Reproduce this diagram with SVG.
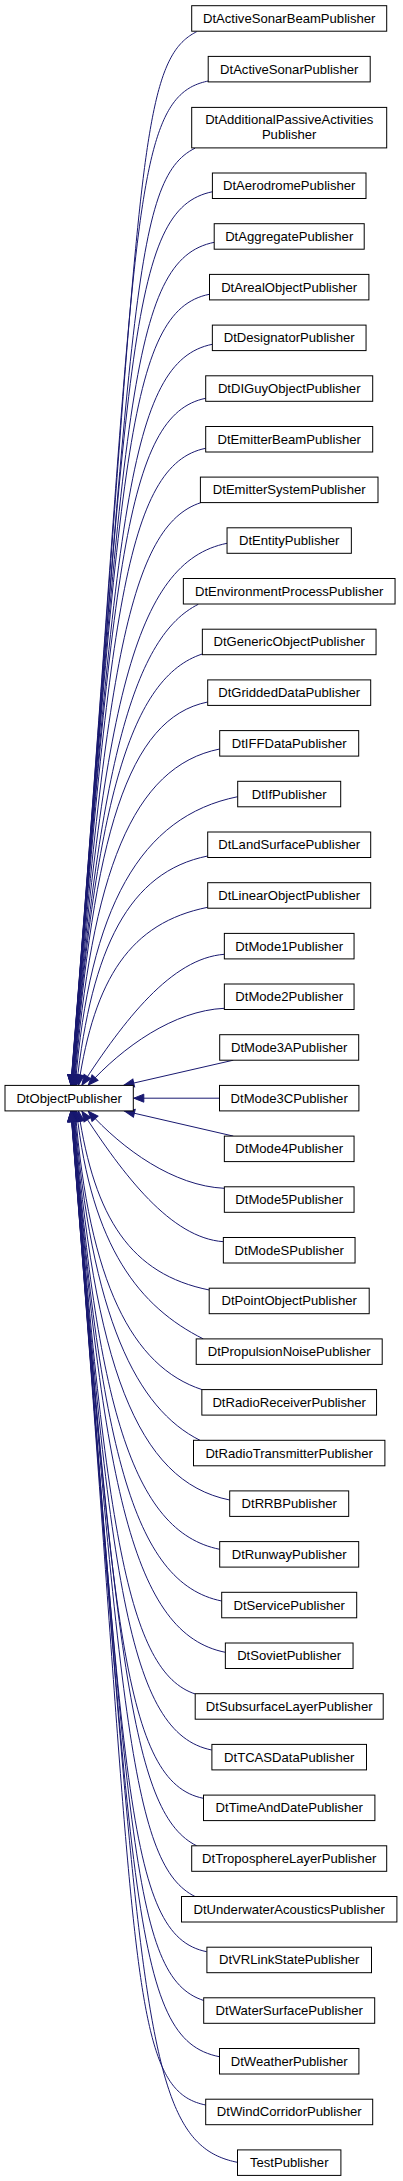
<svg xmlns="http://www.w3.org/2000/svg" width="403" height="2181" viewBox="0 0 403 2181">
<style>
.n rect{fill:#fff;stroke:#000;stroke-width:1}
.n text{font-family:"Liberation Sans",Arial,sans-serif;font-size:13.1px;text-anchor:middle;fill:#000}
.e path{fill:none;stroke:#191970;stroke-width:1;marker-end:url(#arr)}
</style>
<defs>
<marker id="arr" markerUnits="userSpaceOnUse" markerWidth="14" markerHeight="12" viewBox="-12 -6 14 12" refX="0.5" refY="0" orient="auto">
<path d="M0,0 L-10,-4 L-10,4 Z" fill="#191970" stroke="#191970" stroke-width="1"/>
</marker>
</defs>
<rect width="403" height="2181" fill="#fff"/>
<g id="connectors" class="e">
<path d="M196.7,31.7 C133.7,63.2 142.4,189.8 70.8,1085.4"/>
<path d="M208.3,81 C125.9,97.5 139.2,231.7 70.9,1085.4"/>
<path d="M195,148.2 C133,179.2 133.5,304.7 71,1085.4"/>
<path d="M212.7,191.7 C127.7,208.7 129.5,355.3 71.1,1085.4"/>
<path d="M214.3,242.3 C128.4,259.5 125.2,410.9 71.2,1085.4"/>
<path d="M209.3,294.3 C126.6,310.8 121,466 71.4,1085.4"/>
<path d="M212.3,344.3 C127.8,361.2 117,517 71.5,1085.4"/>
<path d="M205.7,398.3 C125.3,414.4 112.9,570.1 71.7,1085.4"/>
<path d="M205.7,448.3 C125.4,464.4 109.3,618.4 71.9,1085.4"/>
<path d="M200.7,502.7 C130,525.8 105.6,667.6 72.2,1085.4"/>
<path d="M227,543.3 C134.3,561.8 102.9,705.9 72.5,1085.4"/>
<path d="M198.3,604.3 C135.5,635.7 99.1,756.8 72.8,1085.4"/>
<path d="M202.3,654 C131.3,677.2 96.2,797.7 73.2,1085.4"/>
<path d="M207.7,702 C127.3,718.1 93.7,836.2 73.75,1085.4"/>
<path d="M219.7,749 C132.5,766.4 91.4,872.4 74.4,1085.4"/>
<path d="M237.7,796.7 C140.3,816.2 89.5,907.3 75.3,1085.4"/>
<path d="M207.7,856 C129,871.7 91.7,947.8 76.6,1085.4"/>
<path d="M207.7,907.3 C130.2,922.8 94.5,978.5 78.5,1085.4"/>
<path d="M224.3,954.3 C171.5,958.2 124.3,1019.9 81.7,1085.4"/>
<path d="M224.3,1008.3 C173.9,1010.6 122.7,1046.9 88,1085.4"/>
<path d="M233.3,1060.2 L123.5,1085.4"/>
<path d="M219.5,1098.2 L133.3,1098.2"/>
<path d="M233.3,1136.1 L124.1,1110.9"/>
<path d="M224.3,1188.3 C173.9,1186 122.8,1149.6 88,1110.9"/>
<path d="M223.3,1241.7 C170.9,1237.8 124.2,1176.3 81.7,1110.9"/>
<path d="M209.3,1290 C130.8,1274.3 94.6,1218.4 78.5,1110.9"/>
<path d="M203.3,1338.9 C139.9,1307.2 91.6,1247.7 76.6,1110.9"/>
<path d="M202,1389.6 C132.3,1366.8 89.1,1282.9 75.3,1110.9"/>
<path d="M200,1440.3 C137.2,1408.9 91.1,1319.4 74.4,1110.9"/>
<path d="M229.7,1500 C136.1,1481.3 94,1363.8 73.75,1110.9"/>
<path d="M219.7,1549.3 C131.8,1531.7 96.6,1403.3 73.2,1110.9"/>
<path d="M221.7,1601 C132.4,1583.1 99.6,1445.6 72.8,1110.9"/>
<path d="M225.3,1652.3 C133.6,1634 102.8,1489.9 72.5,1110.9"/>
<path d="M195.3,1694 C127.6,1671.8 105.6,1529 72.2,1110.9"/>
<path d="M211.7,1750 C127.8,1733.2 109.4,1579.4 71.9,1110.9"/>
<path d="M203.3,1798.3 C124.3,1782.5 112.9,1626.5 71.7,1110.9"/>
<path d="M196.7,1845.8 C134.1,1814.5 116.6,1674.6 71.5,1110.9"/>
<path d="M195,1896.5 C133.2,1865.6 120.6,1726 71.4,1110.9"/>
<path d="M206.7,1951.7 C125.4,1935.4 125,1783.5 71.2,1110.9"/>
<path d="M203.7,2000.5 C130.8,1976.6 129.2,1837.7 71.1,1110.9"/>
<path d="M219.3,2056.7 C130.3,2038.9 134,1898.8 71,1110.9"/>
<path d="M205.7,2105 C124.8,2088.8 138.5,1955.9 70.9,1110.9"/>
<path d="M237.3,2162.3 C137.4,2142.3 142.3,2004.6 70.8,1110.9"/>
</g>
<g id="DtObjectPublisher" class="n"><rect x="5" y="1085.4" width="128.3" height="25.5"/><text x="69.15" y="1102.6">DtObjectPublisher</text></g>
<g id="DtActiveSonarBeamPublisher" class="n"><rect x="191.7" y="5.7" width="195" height="25.5"/><text x="289.2" y="22.9">DtActiveSonarBeamPublisher</text></g>
<g id="DtActiveSonarPublisher" class="n"><rect x="208.2" y="56.4" width="162" height="25.5"/><text x="289.2" y="73.6">DtActiveSonarPublisher</text></g>
<g id="DtAdditionalPassiveActivitiesPublisher" class="n"><rect x="191.7" y="107.4" width="195" height="40.5"/><text x="289.2" y="124.1">DtAdditionalPassiveActivities</text><text x="289.2" y="138.7">Publisher</text></g>
<g id="DtAerodromePublisher" class="n"><rect x="212.4" y="173" width="153.6" height="25.5"/><text x="289.2" y="190.2">DtAerodromePublisher</text></g>
<g id="DtAggregatePublisher" class="n"><rect x="214.2" y="223.7" width="150" height="25.5"/><text x="289.2" y="240.9">DtAggregatePublisher</text></g>
<g id="DtArealObjectPublisher" class="n"><rect x="209.5" y="274.4" width="159.4" height="25.5"/><text x="289.2" y="291.6">DtArealObjectPublisher</text></g>
<g id="DtDesignatorPublisher" class="n"><rect x="212.35" y="325.1" width="153.7" height="25.5"/><text x="289.2" y="342.3">DtDesignatorPublisher</text></g>
<g id="DtDIGuyObjectPublisher" class="n"><rect x="205.7" y="375.8" width="167" height="25.5"/><text x="289.2" y="393">DtDIGuyObjectPublisher</text></g>
<g id="DtEmitterBeamPublisher" class="n"><rect x="205.7" y="426.5" width="167" height="25.5"/><text x="289.2" y="443.7">DtEmitterBeamPublisher</text></g>
<g id="DtEmitterSystemPublisher" class="n"><rect x="200.4" y="477.1" width="177.6" height="25.5"/><text x="289.2" y="494.3">DtEmitterSystemPublisher</text></g>
<g id="DtEntityPublisher" class="n"><rect x="227.05" y="527.8" width="124.3" height="25.5"/><text x="289.2" y="545">DtEntityPublisher</text></g>
<g id="DtEnvironmentProcessPublisher" class="n"><rect x="183.35" y="578.5" width="211.7" height="25.5"/><text x="289.2" y="595.7">DtEnvironmentProcessPublisher</text></g>
<g id="DtGenericObjectPublisher" class="n"><rect x="202.35" y="629.2" width="173.7" height="25.5"/><text x="289.2" y="646.4">DtGenericObjectPublisher</text></g>
<g id="DtGriddedDataPublisher" class="n"><rect x="207.7" y="679.9" width="163" height="25.5"/><text x="289.2" y="697.1">DtGriddedDataPublisher</text></g>
<g id="DtIFFDataPublisher" class="n"><rect x="219.7" y="730.6" width="139" height="25.5"/><text x="289.2" y="747.8">DtIFFDataPublisher</text></g>
<g id="DtIfPublisher" class="n"><rect x="237.7" y="781.3" width="103" height="25.5"/><text x="289.2" y="798.5">DtIfPublisher</text></g>
<g id="DtLandSurfacePublisher" class="n"><rect x="207.7" y="832" width="163" height="25.5"/><text x="289.2" y="849.2">DtLandSurfacePublisher</text></g>
<g id="DtLinearObjectPublisher" class="n"><rect x="207.7" y="882.7" width="163" height="25.5"/><text x="289.2" y="899.9">DtLinearObjectPublisher</text></g>
<g id="DtMode1Publisher" class="n"><rect x="224.35" y="933.4" width="129.7" height="25.5"/><text x="289.2" y="950.6">DtMode1Publisher</text></g>
<g id="DtMode2Publisher" class="n"><rect x="224.35" y="984" width="129.7" height="25.5"/><text x="289.2" y="1001.2">DtMode2Publisher</text></g>
<g id="DtMode3APublisher" class="n"><rect x="219.7" y="1034.7" width="139" height="25.5"/><text x="289.2" y="1051.9">DtMode3APublisher</text></g>
<g id="DtMode3CPublisher" class="n"><rect x="219.5" y="1085.4" width="139.4" height="25.5"/><text x="289.2" y="1102.6">DtMode3CPublisher</text></g>
<g id="DtMode4Publisher" class="n"><rect x="224.35" y="1136.1" width="129.7" height="25.5"/><text x="289.2" y="1153.3">DtMode4Publisher</text></g>
<g id="DtMode5Publisher" class="n"><rect x="224.35" y="1186.8" width="129.7" height="25.5"/><text x="289.2" y="1204">DtMode5Publisher</text></g>
<g id="DtModeSPublisher" class="n"><rect x="223.35" y="1237.5" width="131.7" height="25.5"/><text x="289.2" y="1254.7">DtModeSPublisher</text></g>
<g id="DtPointObjectPublisher" class="n"><rect x="209.2" y="1288.2" width="160" height="25.5"/><text x="289.2" y="1305.4">DtPointObjectPublisher</text></g>
<g id="DtPropulsionNoisePublisher" class="n"><rect x="196.2" y="1338.9" width="186" height="25.5"/><text x="289.2" y="1356.1">DtPropulsionNoisePublisher</text></g>
<g id="DtRadioReceiverPublisher" class="n"><rect x="201.85" y="1389.6" width="174.7" height="25.5"/><text x="289.2" y="1406.8">DtRadioReceiverPublisher</text></g>
<g id="DtRadioTransmitterPublisher" class="n"><rect x="193.5" y="1440.3" width="191.4" height="25.5"/><text x="289.2" y="1457.5">DtRadioTransmitterPublisher</text></g>
<g id="DtRRBPublisher" class="n"><rect x="229.7" y="1490.9" width="119" height="25.5"/><text x="289.2" y="1508.1">DtRRBPublisher</text></g>
<g id="DtRunwayPublisher" class="n"><rect x="219.7" y="1541.6" width="139" height="25.5"/><text x="289.2" y="1558.8">DtRunwayPublisher</text></g>
<g id="DtServicePublisher" class="n"><rect x="221.7" y="1592.3" width="135" height="25.5"/><text x="289.2" y="1609.5">DtServicePublisher</text></g>
<g id="DtSovietPublisher" class="n"><rect x="225.35" y="1643" width="127.7" height="25.5"/><text x="289.2" y="1660.2">DtSovietPublisher</text></g>
<g id="DtSubsurfaceLayerPublisher" class="n"><rect x="195.2" y="1693.7" width="188" height="25.5"/><text x="289.2" y="1710.9">DtSubsurfaceLayerPublisher</text></g>
<g id="DtTCASDataPublisher" class="n"><rect x="211.9" y="1744.4" width="154.6" height="25.5"/><text x="289.2" y="1761.6">DtTCASDataPublisher</text></g>
<g id="DtTimeAndDatePublisher" class="n"><rect x="203.5" y="1795.1" width="171.4" height="25.5"/><text x="289.2" y="1812.3">DtTimeAndDatePublisher</text></g>
<g id="DtTroposphereLayerPublisher" class="n"><rect x="191.7" y="1845.8" width="195" height="25.5"/><text x="289.2" y="1863">DtTroposphereLayerPublisher</text></g>
<g id="DtUnderwaterAcousticsPublisher" class="n"><rect x="181.5" y="1896.5" width="215.4" height="25.5"/><text x="289.2" y="1913.7">DtUnderwaterAcousticsPublisher</text></g>
<g id="DtVRLinkStatePublisher" class="n"><rect x="206.9" y="1947.2" width="164.6" height="25.5"/><text x="289.2" y="1964.4">DtVRLinkStatePublisher</text></g>
<g id="DtWaterSurfacePublisher" class="n"><rect x="203.7" y="1997.8" width="171" height="25.5"/><text x="289.2" y="2015">DtWaterSurfacePublisher</text></g>
<g id="DtWeatherPublisher" class="n"><rect x="219.5" y="2048.5" width="139.4" height="25.5"/><text x="289.2" y="2065.7">DtWeatherPublisher</text></g>
<g id="DtWindCorridorPublisher" class="n"><rect x="205.7" y="2099.2" width="167" height="25.5"/><text x="289.2" y="2116.4">DtWindCorridorPublisher</text></g>
<g id="TestPublisher" class="n"><rect x="237.5" y="2149.9" width="103.4" height="25.5"/><text x="289.2" y="2167.1">TestPublisher</text></g>
</svg>
